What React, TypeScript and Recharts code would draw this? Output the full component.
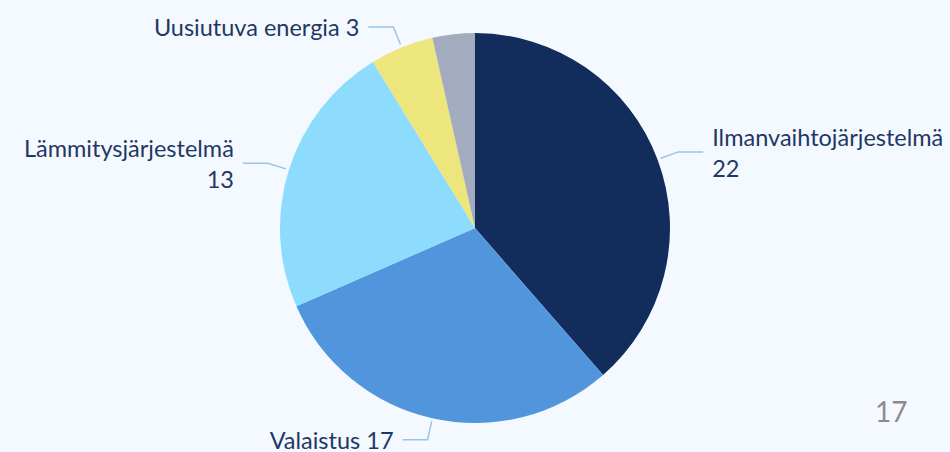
import { PieChart, Pie, Cell } from "recharts";

const categories = ["Ilmanvaihtojärjestelmä", "Valaistus", "Lämmitysjärjestelmä", "Uusiutuva energia", "Muut"];
const values = [22, 17, 13, 3, 2];
const colors = ["#122c5c", "#5196dc", "#8edcfd", "#ede67c", "#a3abbf"];
const showLabel = [true, true, true, true, false];
const slideNumber = "17";

const data = categories.map((name, i) => ({ name, value: values[i] }));

const RADIAN = Math.PI / 180;
const textColor = "#1f3864";
const lineColor = "#9dc3e6";
const font = "Lato, 'Open Sans', sans-serif";

// eslint-disable-next-line @typescript-eslint/no-explicit-any
function renderLabel(props: any) {
  const { cx, cy, midAngle, outerRadius, index, name, value } = props;
  if (!showLabel[index]) return null;
  const cos = Math.cos(-midAngle * RADIAN);
  const sin = Math.sin(-midAngle * RADIAN);
  const sx = cx + (outerRadius + 3) * cos;
  const sy = cy + (outerRadius + 3) * sin;
  const ex = cx + (outerRadius + 22) * cos;
  const ey = cy + (outerRadius + 22) * sin;
  const dir = cos >= 0 ? 1 : -1;
  const hx = ex + dir * 25;
  const tx = hx + dir * 9;
  const anchor = dir > 0 ? "start" : "end";
  const twoLines = name.length > 18;
  return (
    <g key={`lbl-${index}`}>
      <polyline
        points={`${sx},${sy} ${ex},${ey} ${hx},${ey}`}
        fill="none"
        stroke={lineColor}
        strokeWidth={1.5}
      />
      {twoLines ? (
        <text x={tx} y={ey} fill={textColor} textAnchor={anchor} fontSize={23.5} fontFamily={font}>
          <tspan x={tx} dy={-15} dominantBaseline="central">{name}</tspan>
          <tspan x={tx} dy={31} dominantBaseline="central">{value}</tspan>
        </text>
      ) : (
        <text x={tx} y={ey} fill={textColor} textAnchor={anchor} dominantBaseline="central" fontSize={23.5} fontFamily={font}>
          {`${name} ${value}`}
        </text>
      )}
    </g>
  );
}

export default function App() {
  return (
    <div style={{ width: 950, height: 452, background: "#f3f9fe", position: "relative", overflow: "hidden" }}>
      <style>{"body{margin:0}"}</style>
      <PieChart width={950} height={452} margin={{ top: 0, right: 0, bottom: 0, left: 0 }}>
        <Pie
          data={data}
          dataKey="value"
          nameKey="name"
          cx={475}
          cy={228}
          outerRadius={195}
          startAngle={90}
          endAngle={-270}
          stroke="none"
          label={renderLabel}
          labelLine={false}
          isAnimationActive={false}
        >
          {data.map((d, i) => (
            <Cell key={d.name} fill={colors[i]} />
          ))}
        </Pie>
      </PieChart>
      <div
        style={{
          position: "absolute",
          left: 875,
          top: 394,
          fontSize: 28,
          fontFamily: font,
          color: "#8c8c8c",
        }}
      >
        {slideNumber}
      </div>
    </div>
  );
}
